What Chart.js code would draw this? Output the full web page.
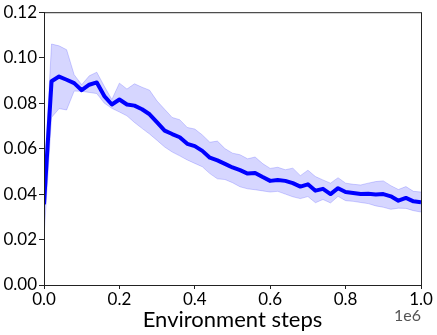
<!DOCTYPE html>
<html>
<head>
<meta charset="utf-8">
<script src="https://cdn.jsdelivr.net/npm/chart.js@4.4.1/dist/chart.umd.min.js"></script>
<style>
html,body{margin:0;padding:0;background:#fff;}
#wrap{width:437px;height:335px;position:relative;}
</style>
</head>
<body>
<div id="wrap"><canvas id="c" width="437" height="335"></canvas></div>
<script>
const steps = [0,20000,40000,60000,80000,100000,120000,140000,160000,180000,200000,220000,240000,260000,280000,300000,320000,340000,360000,380000,400000,420000,440000,460000,480000,500000,520000,540000,560000,580000,600000,620000,640000,660000,680000,700000,720000,740000,760000,780000,800000,820000,840000,860000,880000,900000,920000,940000,960000,980000,1000000];
const meanVals = [0.0355,0.0896,0.0917,0.0903,0.0888,0.0857,0.0881,0.0891,0.0831,0.0794,0.0816,0.0794,0.0789,0.0773,0.0751,0.0715,0.0679,0.0664,0.0650,0.0621,0.0611,0.0590,0.0560,0.0548,0.0533,0.0517,0.0505,0.0490,0.0493,0.0475,0.0458,0.0462,0.0458,0.0448,0.0433,0.0443,0.0415,0.0423,0.0400,0.0426,0.0409,0.0405,0.0400,0.0401,0.0398,0.0400,0.0390,0.0371,0.0383,0.0368,0.0364];
const upperVals = [0.0450,0.1060,0.1052,0.1035,0.0925,0.0881,0.0920,0.0936,0.0874,0.0816,0.0888,0.0862,0.0885,0.0870,0.0857,0.0809,0.0773,0.0737,0.0727,0.0693,0.0686,0.0660,0.0628,0.0633,0.0600,0.0580,0.0573,0.0555,0.0563,0.0534,0.0513,0.0518,0.0507,0.0514,0.0481,0.0505,0.0477,0.0462,0.0448,0.0472,0.0448,0.0443,0.0440,0.0448,0.0455,0.0458,0.0437,0.0420,0.0433,0.0412,0.0409];
const lowerVals = [0.0210,0.0737,0.0776,0.0770,0.0853,0.0852,0.0847,0.0842,0.0800,0.0777,0.0761,0.0744,0.0715,0.0689,0.0664,0.0636,0.0607,0.0585,0.0568,0.0550,0.0535,0.0520,0.0490,0.0467,0.0464,0.0450,0.0432,0.0423,0.0419,0.0414,0.0409,0.0412,0.0400,0.0388,0.0380,0.0389,0.0362,0.0376,0.0361,0.0390,0.0371,0.0368,0.0363,0.0358,0.0348,0.0342,0.0333,0.0338,0.0337,0.0327,0.0321];
const xTickStep = 200000;
const yTickStep = 0.02;
const xTitle = 'Environment steps';
const xOffsetLabel = '1e6';

const FONT = 'Lato, "DejaVu Sans", sans-serif';
const pts = arr => steps.map((s,i)=>({x:s,y:arr[i]}));

const framePlugin = {
  id:'frame',
  afterDraw(chart){
    const {ctx, chartArea:a} = chart;
    ctx.save();
    ctx.strokeStyle='#222';
    ctx.lineWidth=1;
    ctx.strokeRect(a.left+0.5, a.top+0.5, a.right-a.left, a.bottom-a.top);
    ctx.fillStyle='#555';
    ctx.font='16px '+FONT;
    ctx.textAlign='right';
    ctx.textBaseline='alphabetic';
    ctx.fillText(xOffsetLabel, a.right, a.bottom+36);
    ctx.restore();
  }
};

new Chart(document.getElementById('c'), {
  type:'line',
  data:{datasets:[
    {data:pts(upperVals), borderColor:'rgba(0,0,255,0.18)', borderWidth:1, backgroundColor:'rgba(0,0,255,0.16)', fill:'+1', pointRadius:0, tension:0},
    {data:pts(lowerVals), borderColor:'rgba(0,0,255,0.18)', borderWidth:1, fill:false, pointRadius:0, tension:0},
    {data:pts(meanVals), borderColor:'#0000ff', borderWidth:4, fill:false, pointRadius:0, tension:0, borderJoinStyle:'round'}
  ]},
  options:{
    responsive:false, animation:false,
    layout:{padding:{top:8,right:16,left:0,bottom:0}},
    plugins:{legend:{display:false}, tooltip:{enabled:false}},
    scales:{
      x:{type:'linear', min:0, max:1000000,
        afterFit(s){s.height=50;},
        ticks:{stepSize:xTickStep, callback:v=>(v/1e6).toFixed(1), color:'#000', font:{family:FONT,size:17}, padding:0, maxRotation:0},
        grid:{display:true, drawOnChartArea:false, drawTicks:true, tickLength:4, color:'#222'},
        border:{display:true,color:'#222'},
        title:{display:true, text:xTitle, color:'#000', font:{family:FONT,size:22}, padding:{top:0,bottom:2}}
      },
      y:{min:0, max:0.12,
        afterFit(s){s.width=44;},
        ticks:{stepSize:yTickStep, callback:v=>v.toFixed(2), color:'#000', font:{family:FONT,size:17}, padding:2},
        grid:{display:true, drawOnChartArea:false, drawTicks:true, tickLength:5, color:'#222'},
        border:{display:true,color:'#222'}
      }
    }
  },
  plugins:[framePlugin]
});
</script>
</body>
</html>
